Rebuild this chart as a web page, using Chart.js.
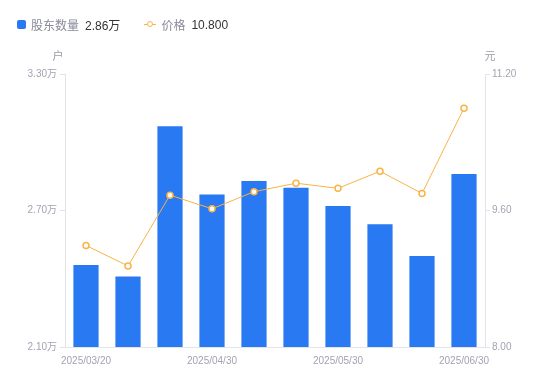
<!DOCTYPE html>
<html>
<head>
<meta charset="utf-8">
<script src="https://cdn.jsdelivr.net/npm/chart.js@4"></script>
<style>
  body { margin: 0; background: #fff; font-family: "Liberation Sans", "Noto Sans CJK SC", sans-serif; }
  #wrap { position: relative; width: 550px; height: 381px; }
  #legend { position: absolute; left: 17px; top: 16px; font-size: 12px; display: flex; align-items: center; white-space: nowrap; }
  .sq { display: inline-block; width: 9px; height: 9px; background: #2979f2; border-radius: 2px; margin-right: 5px; }
  .ln { display: inline-block; position: relative; width: 12px; height: 9px; margin-right: 5px; }
  .ln::before { content: ""; position: absolute; left: 0; right: 0; top: 4px; height: 1px; background: #f8b445; }
  .ln::after { content: ""; position: absolute; left: 3px; top: 1px; width: 4px; height: 4px; border: 1.5px solid #f8b445; border-radius: 50%; background: #fff; }
  .nm { color: #8a8a99; margin-right: 6px; }
  .vl { color: #333; }
</style>
</head>
<body>
<div id="wrap">
  <div id="legend">
    <span class="sq"></span><span class="nm">股东数量</span><span class="vl" id="v1"></span>
    <span style="width:24px;display:inline-block"></span>
    <span class="ln"></span><span class="nm">价格</span><span class="vl" id="v2"></span>
  </div>
  <canvas id="grafico" width="550" height="381"></canvas>
</div>
<script>
const fechas = ["2025/03/20", "2025/03/31", "2025/04/10", "2025/04/30", "2025/05/10",
                "2025/05/20", "2025/05/30", "2025/06/10", "2025/06/20", "2025/06/30"];
const accionistas = [2.46, 2.41, 3.07, 2.77, 2.83, 2.80, 2.72, 2.64, 2.50, 2.86]; // 万户
const precio = [9.19, 8.95, 9.78, 9.62, 9.82, 9.92, 9.86, 10.06, 9.80, 10.80];
const ticksIzq = [2.10, 2.70, 3.30];
const ticksDer = [8.00, 9.60, 11.20];

const azul = "#2979f2";
const naranja = "#f8b445";
const gris = "#a3a3b3";
const eje = "#e3e3ea";

document.getElementById("v1").textContent = accionistas[accionistas.length - 1].toFixed(2) + "万";
document.getElementById("v2").textContent = precio[precio.length - 1].toFixed(3);

const titulos = {
  id: "titulos",
  afterDraw(chart) {
    const c = chart.ctx;
    const a = chart.chartArea;
    c.save();
    c.font = '11px "Liberation Sans", "Noto Sans CJK SC"';
    c.fillStyle = "#9a9aaa";
    c.textAlign = "center";
    c.textBaseline = "middle";
    c.fillText("户", a.left - 7, 57);
    c.fillText("元", a.right + 5, 57);
    c.restore();
  }
};

const fuente = { family: '"Liberation Sans", "Noto Sans CJK SC"', size: 10 };

new Chart(document.getElementById("grafico"), {
  data: {
    labels: fechas,
    datasets: [
      {
        type: "line",
        label: "价格",
        data: precio,
        yAxisID: "y1",
        borderColor: naranja,
        borderWidth: 1,
        pointRadius: 3,
        pointBorderWidth: 1.5,
        pointBackgroundColor: "#fff",
        pointBorderColor: naranja,
        tension: 0,
        order: 0
      },
      {
        type: "bar",
        label: "股东数量",
        data: accionistas,
        yAxisID: "y",
        backgroundColor: azul,
        categoryPercentage: 1,
        barPercentage: 0.6,
        order: 1
      }
    ]
  },
  options: {
    responsive: false,
    animation: false,
    layout: { padding: { top: 74, left: 0, right: 0, bottom: 0 } },
    plugins: { legend: { display: false }, tooltip: { enabled: false } },
    scales: {
      x: {
        grid: { display: false },
        border: { color: eje },
        ticks: {
          autoSkip: false,
          maxRotation: 0,
          color: gris,
          font: fuente,
          padding: 0,
          callback: (v, i) => (i % 3 === 0 ? fechas[i] : "")
        },
        afterFit: s => { s.height = 34; }
      },
      y: {
        position: "left",
        min: 2.1,
        max: 3.3,
        grid: { drawOnChartArea: false, color: eje, tickLength: 5 },
        border: { color: eje },
        ticks: { color: gris, font: fuente, padding: 3, callback: v => v.toFixed(2) + "万" },
        afterBuildTicks: s => { s.ticks = ticksIzq.map(v => ({ value: v })); },
        afterFit: s => { s.width = 65; }
      },
      y1: {
        position: "right",
        min: 8,
        max: 11.2,
        grid: { drawOnChartArea: false, color: eje, tickLength: 5 },
        border: { color: eje },
        ticks: { color: gris, font: fuente, padding: 2, callback: v => v.toFixed(2) },
        afterBuildTicks: s => { s.ticks = ticksDer.map(v => ({ value: v })); },
        afterFit: s => { s.width = 65; }
      }
    }
  },
  plugins: [titulos]
});
</script>
</body>
</html>
